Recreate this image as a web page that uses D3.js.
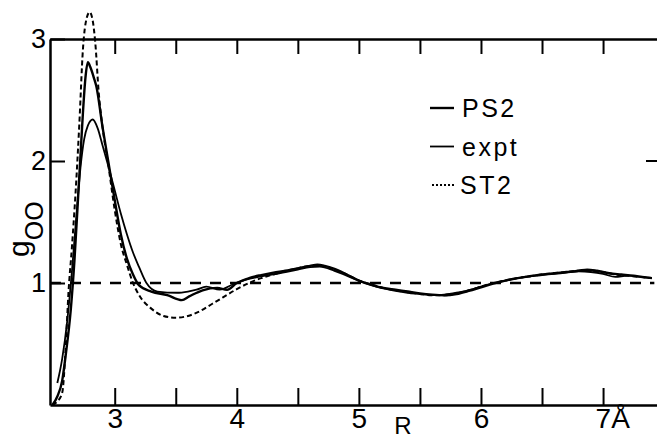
<!DOCTYPE html>
<html>
<head>
<meta charset="utf-8">
<script src="https://cdn.jsdelivr.net/npm/d3@7"></script>
<style>
  body { margin: 0; background: #fff; }
  svg { display: block; font-family: "Liberation Sans", Arial, sans-serif; }
  .axis path, .axis line { stroke: #000; }
  .axis text { fill: #000; }
</style>
</head>
<body>
<div id="chart"></div>
<script>
// g_OO(R) curves, [R in Å, g]
const ps2 = [
  [2.49,0],[2.53,0.07],[2.57,0.2],[2.60,0.42],[2.64,0.78],[2.67,1.18],[2.70,1.7],[2.72,2.05],
  [2.74,2.4],[2.76,2.68],[2.78,2.81],[2.80,2.77],[2.83,2.68],[2.85,2.61],[2.90,2.28],[2.95,1.98],
  [3.00,1.68],[3.05,1.4],[3.10,1.2],[3.15,1.07],[3.20,0.98],[3.30,0.93],[3.43,0.9],[3.55,0.86],
  [3.61,0.89],[3.72,0.94],[3.84,0.96],[3.92,0.945],[4.00,1.0],[4.10,1.04],[4.20,1.065],[4.30,1.085],
  [4.40,1.1],[4.50,1.12],[4.60,1.14],[4.66,1.15],[4.72,1.14],[4.80,1.115],[4.90,1.07],[5.00,1.02],
  [5.10,0.985],[5.20,0.96],[5.30,0.945],[5.40,0.93],[5.50,0.915],[5.60,0.905],[5.70,0.9],[5.80,0.91],
  [5.90,0.935],[6.00,0.965],[6.10,0.995],[6.20,1.02],[6.30,1.04],[6.40,1.055],[6.50,1.07],[6.60,1.08],
  [6.70,1.09],[6.80,1.1],[6.87,1.11],[6.95,1.1],[7.05,1.08],[7.15,1.07],[7.25,1.06],[7.32,1.05],[7.40,1.04]
];
const expt = [
  [2.53,0.18],[2.57,0.38],[2.61,0.68],[2.65,1.1],[2.69,1.6],[2.72,1.95],[2.75,2.18],[2.78,2.29],
  [2.82,2.34],[2.86,2.27],[2.90,2.13],[2.95,1.95],[3.00,1.76],[3.05,1.57],[3.10,1.4],[3.15,1.25],
  [3.20,1.13],[3.26,1.0],[3.35,0.93],[3.51,0.92],[3.60,0.93],[3.67,0.945],[3.75,0.97],[3.86,0.945],
  [3.97,0.99],[4.05,1.02],[4.15,1.045],[4.30,1.07],[4.40,1.09],[4.50,1.11],[4.60,1.13],[4.68,1.135],
  [4.80,1.1],[4.90,1.06],[5.00,1.02],[5.10,0.985],[5.20,0.955],[5.30,0.935],[5.40,0.92],[5.50,0.91],
  [5.60,0.9],[5.70,0.905],[5.80,0.92],[5.90,0.94],[6.00,0.97],[6.10,1.0],[6.20,1.02],[6.30,1.04],
  [6.40,1.055],[6.50,1.065],[6.60,1.075],[6.70,1.085],[6.80,1.095],[6.90,1.09],[7.00,1.075],[7.10,1.05],
  [7.20,1.06],[7.30,1.05],[7.40,1.04]
];
const st2 = [
  [2.49,0],[2.53,0.03],[2.57,0.1],[2.60,0.5],[2.62,0.9],[2.65,1.3],[2.68,1.75],[2.71,2.3],
  [2.74,2.92],[2.77,3.17],[2.795,3.22],[2.82,3.15],[2.84,2.98],[2.87,2.55],[2.90,2.28],[2.95,1.95],
  [3.00,1.6],[3.05,1.32],[3.10,1.15],[3.15,1.0],[3.20,0.9],[3.30,0.79],[3.40,0.73],[3.50,0.715],
  [3.60,0.73],[3.70,0.77],[3.80,0.83],[3.90,0.89],[4.00,0.95],[4.10,1.0],[4.20,1.04],[4.30,1.07],
  [4.40,1.1],[4.50,1.12],[4.60,1.14],[4.70,1.14],[4.80,1.11],[4.90,1.07],[5.00,1.02],[5.10,0.99],
  [5.20,0.96],[5.30,0.94],[5.40,0.925],[5.50,0.91],[5.60,0.9],[5.70,0.9],[5.80,0.915],[5.90,0.94],
  [6.00,0.97],[6.10,1.0],[6.20,1.02],[6.30,1.04],[6.40,1.055],[6.50,1.07],[6.60,1.08],[6.70,1.09],
  [6.80,1.1],[6.90,1.1],[7.00,1.09],[7.10,1.07],[7.20,1.06],[7.30,1.05],[7.40,1.04]
];

const xTicks = [3, 3.5, 4, 4.5, 5, 5.5, 6, 6.5, 7];
const yTicks = [1, 2, 3];
const legendItems = ["PS2", "expt", "ST2"];

const width = 657, height = 442;

const svg = d3.select("#chart").append("svg")
    .attr("width", width)
    .attr("height", height);

const x = d3.scaleLinear().domain([2.47, 7.45]).range([50, 658]);
const y = d3.scaleLinear().domain([0, 3]).range([405, 39]);

// bottom axis, ticks pointing in
const xAxis = svg.append("g")
    .attr("class", "axis")
    .attr("transform", `translate(0,${y(0)})`)
    .call(d3.axisBottom(x).tickValues(xTicks).tickSize(-17).tickSizeOuter(0).tickPadding(3)
        .tickFormat(d => Number.isInteger(d) ? String(d) : ""));
xAxis.select(".domain").attr("stroke-width", 2.5);
xAxis.selectAll(".tick line").attr("stroke-width", 2);
xAxis.selectAll("text").attr("font-size", 28);
// the Å unit after the last label
xAxis.selectAll(".tick").filter(d => d === 7).select("text")
    .attr("text-anchor", "start").attr("dx", -8).text("7Å");

// top frame
const topAxis = svg.append("g")
    .attr("class", "axis")
    .attr("transform", `translate(0,${y(3)})`)
    .call(d3.axisTop(x).tickValues(xTicks).tickSize(-15).tickSizeOuter(0).tickFormat(""));
topAxis.select(".domain").attr("stroke-width", 2.5);
topAxis.selectAll(".tick line").attr("stroke-width", 2);

// left axis
const yAxis = svg.append("g")
    .attr("class", "axis")
    .attr("transform", `translate(${x(2.47)},0)`)
    .call(d3.axisLeft(y).tickValues(yTicks).tickSize(-15).tickSizeOuter(0).tickPadding(4)
        .tickFormat(d3.format("d")));
yAxis.select(".domain").attr("stroke-width", 2.5);
yAxis.selectAll(".tick line").attr("stroke-width", 2);
yAxis.selectAll("text").attr("font-size", 27);

// right-hand tick at 2
svg.append("line")
    .attr("x1", x.range()[1] - 12).attr("x2", x.range()[1])
    .attr("y1", y(2)).attr("y2", y(2))
    .attr("stroke", "#000").attr("stroke-width", 2);

// g = 1 reference
svg.append("line")
    .attr("x1", x(2.47)).attr("x2", x(7.42))
    .attr("y1", y(1)).attr("y2", y(1))
    .attr("stroke", "#000").attr("stroke-width", 2.5)
    .attr("stroke-dasharray", "11,9");

const line = d3.line()
    .x(d => x(d[0]))
    .y(d => y(d[1]))
    .curve(d3.curveMonotoneX);

svg.append("path").datum(st2)
    .attr("d", line).attr("fill", "none")
    .attr("stroke", "#000").attr("stroke-width", 2)
    .attr("stroke-dasharray", "5,3");

svg.append("path").datum(expt)
    .attr("d", line).attr("fill", "none")
    .attr("stroke", "#000").attr("stroke-width", 1.8);

svg.append("path").datum(ps2)
    .attr("d", line).attr("fill", "none")
    .attr("stroke", "#000").attr("stroke-width", 2.4);

// axis titles
svg.append("text")
    .attr("x", x(5.36)).attr("y", 434)
    .attr("text-anchor", "middle")
    .attr("font-size", 24)
    .text("R");

const yTitle = svg.append("text")
    .attr("transform", "rotate(-90)")
    .attr("x", -257).attr("y", 29);
yTitle.append("tspan").attr("font-size", 30).text("g");
yTitle.append("tspan").attr("font-size", 25).attr("dy", 14).text("OO");

// legend
const legend = svg.append("g").attr("transform", "translate(430,108)");
const legendDash = [null, null, "2,2"];
const legendWidth = [2.4, 1.8, 2];
legendItems.forEach(function(name, i) {
    legend.append("line")
        .attr("x1", i === 2 ? 2 : 0).attr("x2", 24)
        .attr("y1", i * 38.5).attr("y2", i * 38.5)
        .attr("stroke", "#000")
        .attr("stroke-width", legendWidth[i])
        .attr("stroke-dasharray", legendDash[i]);
    legend.append("text")
        .attr("x", i === 2 ? 30 : 32)
        .attr("y", i * 38.5 + 9)
        .attr("font-size", 25)
        .attr("letter-spacing", 2.5)
        .text(name);
});
</script>
</body>
</html>
